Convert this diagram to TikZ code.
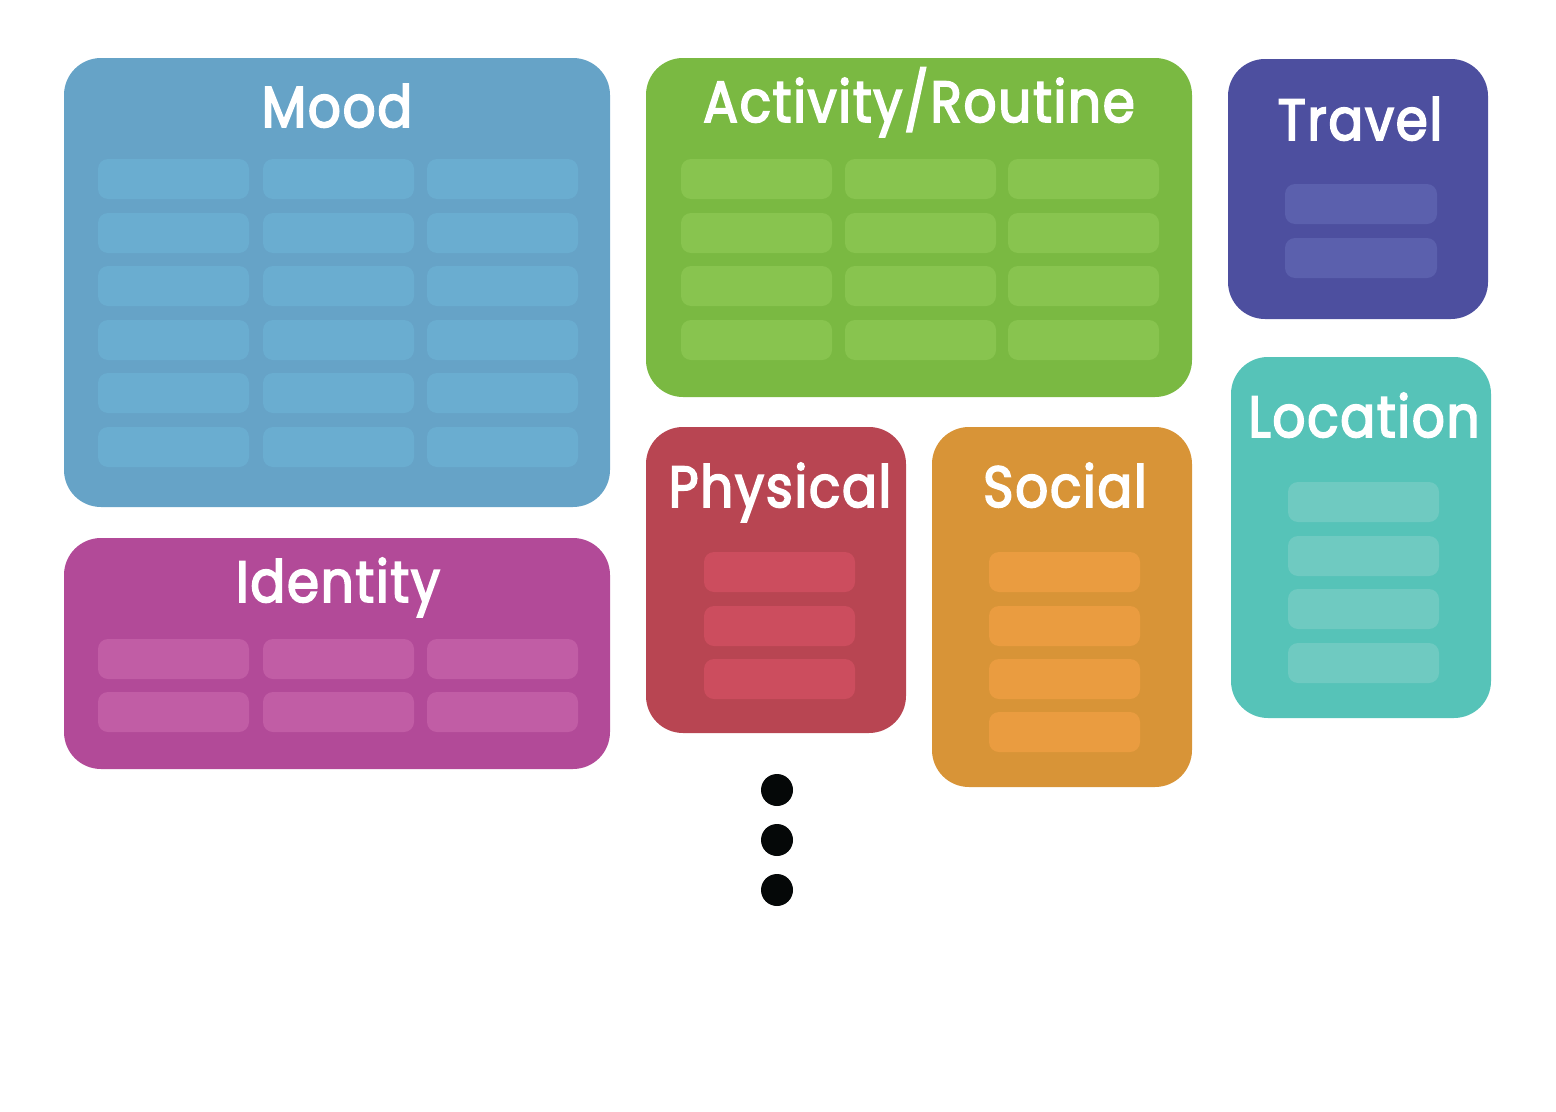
\documentclass[tikz,border=0pt]{standalone}
\usepackage{fontspec}
\setmainfont{Poppins}[FakeStretch=0.89, FakeBold=3, LetterSpace=3]

\definecolor{moodbg}{HTML}{66A3C7}
\definecolor{moodcell}{HTML}{6AADD0}
\definecolor{actbg}{HTML}{7AB942}
\definecolor{actcell}{HTML}{88C44F}
\definecolor{travelbg}{HTML}{4D4F9F}
\definecolor{travelcell}{HTML}{5B60AD}
\definecolor{locbg}{HTML}{56C3B8}
\definecolor{loccell}{HTML}{6FCAC1}
\definecolor{identbg}{HTML}{B24A98}
\definecolor{identcell}{HTML}{C15DA5}
\definecolor{physbg}{HTML}{B84552}
\definecolor{physcell}{HTML}{CC4D5E}
\definecolor{socbg}{HTML}{D89437}
\definecolor{soccell}{HTML}{EA9C40}
\definecolor{dotblack}{HTML}{050808}

\tikzset{
  catbox/.style={rounded corners=0.74cm},
  cellbox/.style={rounded corners=0.2cm},
  title/.style={anchor=base, text=white, inner sep=0pt, font=\fontsize{33}{33}\selectfont},
  dotmark/.style={circle, fill=dotblack, minimum size=0.64cm, inner sep=0pt}
}

\begin{document}
\begin{tikzpicture}[x=0.02cm, y=-0.02cm]
      \useasboundingbox (0,0) rectangle (1556,1112);

      % Mood
      \fill[moodbg, catbox] (64,58) rectangle (610,507);
      \node (mood) [title] at (337,127) {Mood};
      \foreach \x in {98,263,427} {
          \foreach \y in {159,213,266,320,373,427} {
              \fill[moodcell, cellbox] (\x,\y) rectangle ++(151,40);
            }
        }

      % Activity / Routine
      \fill[actbg, catbox] (646,58) rectangle (1192,397);
      \node (activity) [title] at (919,122) {Activity/Routine};
      \foreach \x in {681,845,1008} {
          \foreach \y in {159,213,266,320} {
              \fill[actcell, cellbox] (\x,\y) rectangle ++(151,40);
            }
        }

      % Travel
      \fill[travelbg, catbox] (1228,59) rectangle (1488,319);
      \node (travel) [title] at (1360,140) {Travel};
      \foreach \y in {184,238} {
          \fill[travelcell, cellbox] (1285,\y) rectangle ++(152,40);
        }

      % Location
      \fill[locbg, catbox] (1231,357) rectangle (1491,718);
      \node (location) [title] at (1364,437) {Location};
      \foreach \y in {482,536,589,643} {
          \fill[loccell, cellbox] (1288,\y) rectangle ++(151,40);
        }

      % Identity
      \fill[identbg, catbox] (64,538) rectangle (610,769);
      \node (identity) [title] at (338,602) {Identity};
      \foreach \x in {98,263,427} {
          \foreach \y in {639,692} {
              \fill[identcell, cellbox] (\x,\y) rectangle ++(151,40);
            }
        }

      % Physical
      \fill[physbg, catbox] (646,427) rectangle (906,733);
      \node (physical) [title] at (780,507) {Physical};
      \foreach \y in {552,606,659} {
          \fill[physcell, cellbox] (704,\y) rectangle ++(151,40);
        }

      % Social
      \fill[socbg, catbox] (932,427) rectangle (1192,787);
      \node (social) [title] at (1065,507) {Social};
      \foreach \y in {552,606,659,712} {
          \fill[soccell, cellbox] (989,\y) rectangle ++(151,40);
        }

      % More categories
      \foreach \y [count=\i] in {790,840,890} {
          \node (dot\i) [dotmark] at (777,\y) {};
        }
    \end{tikzpicture}
\end{document}
